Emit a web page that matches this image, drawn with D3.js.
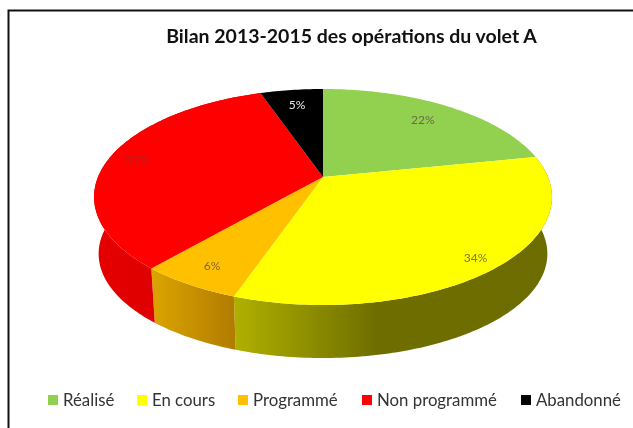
<!DOCTYPE html>
<html lang="fr"><head><meta charset="utf-8">
<script src="https://cdn.jsdelivr.net/npm/d3@7"></script>
<style>html,body{margin:0;padding:0;background:#fff}svg{display:block;filter:blur(.4px)}text{font-family:Lato,"Open Sans",sans-serif}</style>
</head><body><svg id="c" width="633" height="428"></svg>
<script>
const chartTitle = "Bilan 2013-2015 des opérations du volet A";
const categories = ["Réalisé","En cours","Programmé","Non programmé","Abandonné"];
const values = [21.8,33.5,6.1,33.3,5.3];
const colors = ["#92d050","#ffff00","#ffc000","#ff0000","#000000"];
const labelColors = ["#6b6b45","#77772a","#7f6a25","#b02020","#e8e8e8"];
const labelRadii = [.78,.9,.85,.87,.8];
const legendX = [48,137,238,362,521];

const svg = d3.select("#c");
const cx=323, cy=177, k=.185, A=104.3, B=225, lowerX=.98, lowerY=.965, lowerDy=57.5;
const proj=(a,r,lower)=>{
  const x=Math.sin(a)*r, z=-Math.cos(a)*r, s=1/(1-k*z);
  return [cx+B*x*s*(lower?lowerX:1), cy+(lower?lowerDy:0)+A*z*s*(lower?lowerY:1)];
};
const arcPts=(a0,a1,lower)=>{
  const n=Math.max(2,Math.ceil((a1-a0)*60));
  return d3.range(n+1).map(i=>proj(a0+(a1-a0)*i/n,1,lower));
};
const line=d3.line();
const slices=d3.pie().sort(null).value(d=>d)(values);

const defs=svg.append("defs");
const wallStops=[
  [[0,"#e60000"],[1,"#cf0000"]],
  [[0,"#b0b000"],[.45,"#6e6e00"],[1,"#6c6c00"]],
  [[0,"#dba500"],[1,"#b27c00"]]
];
const wallIdx={1:1,2:2,3:0};
slices.forEach((d,i)=>{
  if(!(i in wallIdx)) return;
  const g=defs.append("linearGradient").attr("id","w"+i).attr("gradientUnits","userSpaceOnUse");
  const xs=arcPts(d.startAngle,d.endAngle,false).map(p=>p[0]);
  g.attr("x1",d3.min(xs)).attr("x2",d3.max(xs)).attr("y1",0).attr("y2",0);
  g.selectAll("stop").data(wallStops[wallIdx[i]]).join("stop")
    .attr("offset",s=>s[0]).attr("stop-color",s=>s[1]);
});

// frame
svg.append("path").attr("d","M8.5,428V10.5H633").attr("fill","none").attr("stroke","#111").attr("stroke-width",2);

// walls
svg.append("g").selectAll("path").data(slices.filter((d,i)=>i in wallIdx)).join("path")
  .attr("d",d=>line([...arcPts(d.startAngle,d.endAngle,false),...arcPts(d.startAngle,d.endAngle,true).reverse()])+"Z")
  .attr("fill",d=>`url(#w${d.index})`);

// top faces
svg.append("g").selectAll("path").data(slices).join("path")
  .attr("d",d=>line([[cx,cy],...arcPts(d.startAngle,d.endAngle,false)])+"Z")
  .attr("fill",d=>colors[d.index]);

// labels
const pct=d3.format(".0%"), total=d3.sum(values);
svg.append("g").selectAll("text").data(slices).join("text")
  .attr("transform",d=>{const p=proj((d.startAngle+d.endAngle)/2,labelRadii[d.index],false);return `translate(${p[0]},${p[1]+4})`;})
  .attr("text-anchor","middle").attr("font-size",12)
  .attr("fill",d=>labelColors[d.index]).text(d=>pct(d.data/total));

svg.append("text").attr("x",351.5).attr("y",43).attr("text-anchor","middle")
  .attr("font-size",19.5).attr("font-weight",700).attr("fill","#111").text(chartTitle);

// legend
const lg=svg.append("g").selectAll("g").data(categories).join("g")
  .attr("transform",(d,i)=>`translate(${legendX[i]},406)`);
lg.append("rect").attr("x",0).attr("y",-11).attr("width",10).attr("height",10).attr("fill",(d,i)=>colors[i]);
lg.append("text").attr("x",15).attr("y",0).attr("font-size",16.8).attr("fill","#333").text(d=>d);
</script></body></html>
